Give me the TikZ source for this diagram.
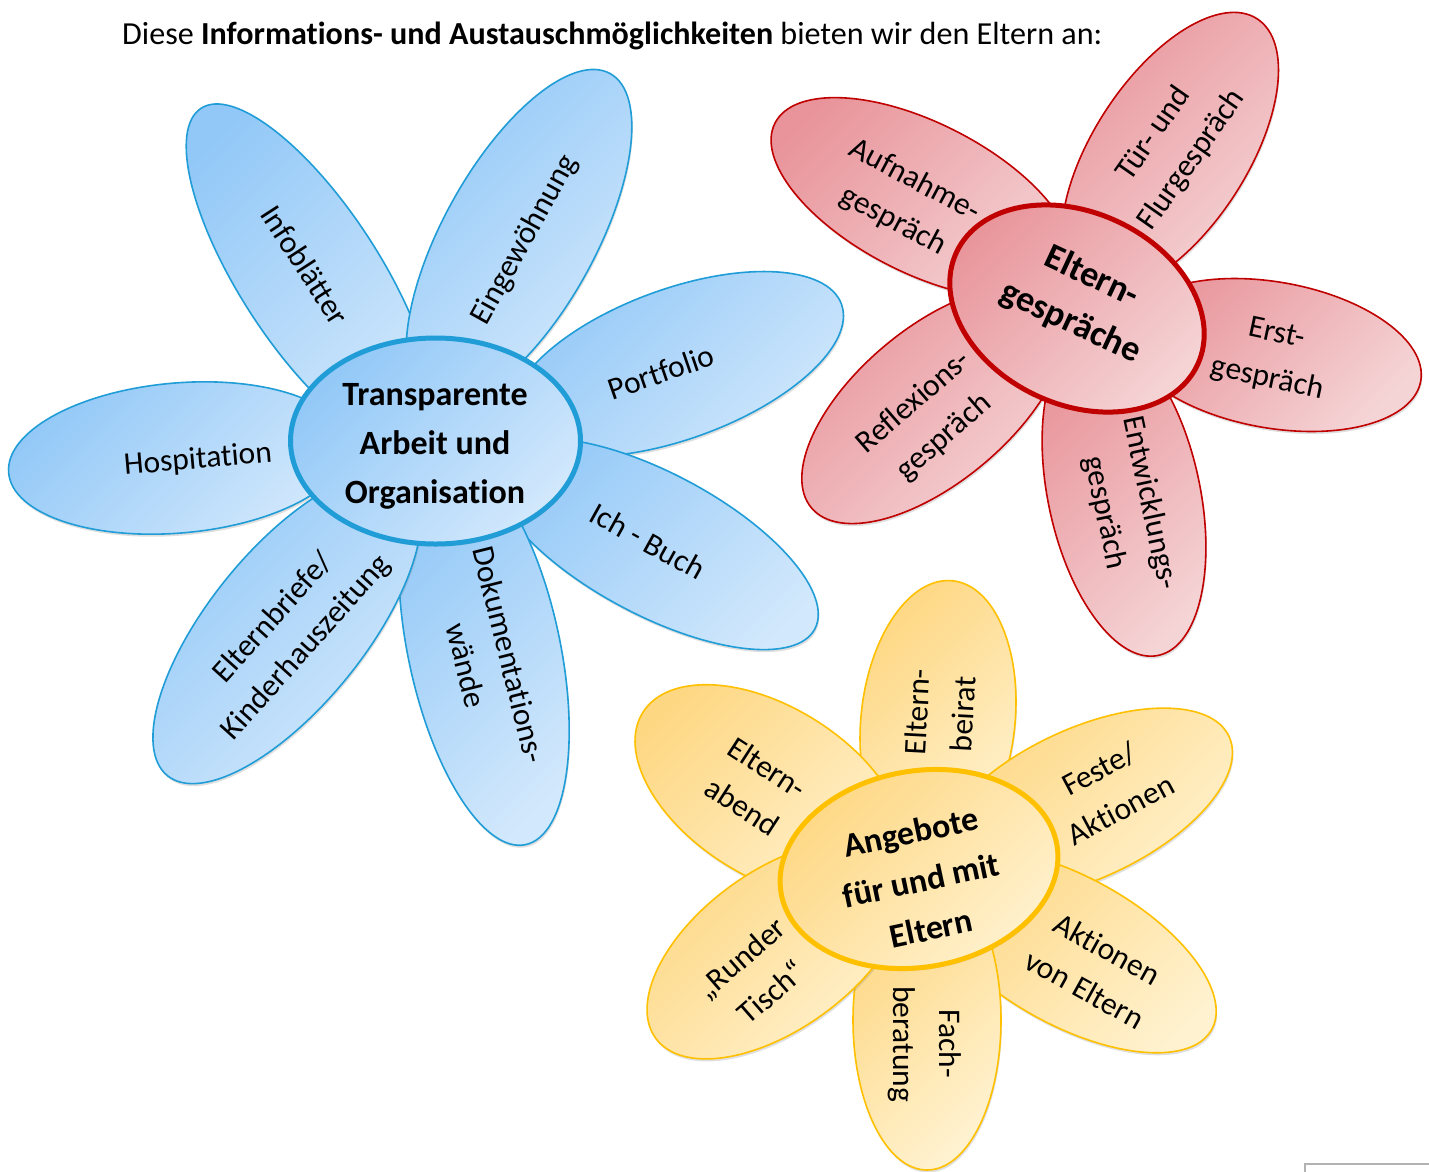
\documentclass[tikz,border=0pt]{standalone}
\usepackage{fontspec}
\setmainfont{Carlito}[Ligatures=NoCommon]
\usetikzlibrary{shapes.geometric,shadows}
\definecolor{bdark}{RGB}{146,200,247}
\definecolor{blight}{RGB}{210,232,252}
\definecolor{bline}{RGB}{32,157,215}
\definecolor{rdark}{RGB}{232,148,154}
\definecolor{rlight}{RGB}{245,212,214}
\definecolor{rline}{RGB}{192,0,0}
\definecolor{ydark}{RGB}{254,215,130}
\definecolor{ylight}{RGB}{255,242,208}
\definecolor{yline}{RGB}{255,192,0}
\tikzset{
  petal/.style={ellipse, inner sep=0pt, line width=1.6pt,
    drop shadow={opacity=0.25, shadow xshift=1pt, shadow yshift=-2.5pt}},
  bpetal/.style={petal, draw=bline, top color=bdark, bottom color=blight, shading angle=45},
  rpetal/.style={petal, draw=rline, top color=rdark, bottom color=rlight, shading angle=45},
  ypetal/.style={petal, draw=yline, top color=ydark, bottom color=ylight, shading angle=45},
  bcenter/.style={bpetal, line width=5pt},
  rcenter/.style={rpetal, line width=5pt},
  ycenter/.style={ypetal, line width=5pt},
  ptext/.style={align=center, inner sep=0pt, font=\fontsize{31.5}{46}\selectfont},
  ctext/.style={align=center, inner sep=0pt, font=\fontsize{34}{49}\selectfont\bfseries},
}
\begin{document}
\begin{tikzpicture}[x=1pt,y=1pt]
\fill[white] (0,0) rectangle (1429,-1171);
\useasboundingbox (0,0) rectangle (1429,-1171);

\node[anchor=base west, inner sep=0pt, font=\fontsize{32.1}{37}\selectfont] (title) at (122,-44)
  {Diese \textbf{Informations- und Austauschmöglichkeiten} bieten wir den Eltern an:};

% ---------- blue flower ----------
\node[bpetal, minimum width=400pt, minimum height=140pt, rotate=-57] (bp1) at (310,-276) {};
\node[bpetal, minimum width=376pt, minimum height=152pt, rotate=61] (bp2) at (519,-238) {};
\node[bpetal, minimum width=350pt, minimum height=150pt, rotate=20] (bp3) at (677,-364) {};
\node[bpetal, minimum width=362pt, minimum height=142pt, rotate=-28] (bp4) at (655,-544) {};
\node[bpetal, minimum width=400pt, minimum height=152pt, rotate=-78] (bp5) at (484,-649) {};
\node[bpetal, minimum width=380pt, minimum height=156pt, rotate=51] (bp6) at (287,-628) {};
\node[bpetal, minimum width=340pt, minimum height=150pt, rotate=5] (bp7) at (178,-458) {};
\node[bcenter, minimum width=290pt, minimum height=206pt] (bc) at (435.5,-441) {};

% ---------- red flower ----------
\node[rpetal, minimum width=330pt, minimum height=150pt, rotate=-27] (rp1) at (922,-198) {};
\node[rpetal, minimum width=320pt, minimum height=154pt, rotate=57] (rp2) at (1170,-153) {};
\node[rpetal, minimum width=300pt, minimum height=146pt, rotate=-10] (rp3) at (1273,-355) {};
\node[rpetal, minimum width=330pt, minimum height=152pt, rotate=-78] (rp4) at (1124,-494) {};
\node[rpetal, minimum width=320pt, minimum height=154pt, rotate=40] (rp5) at (934,-405) {};
\node[rcenter, minimum width=266pt, minimum height=192pt, rotate=-25] (rc) at (1077,-308.5) {};

% ---------- yellow flower ----------
\node[ypetal, minimum width=280pt, minimum height=154pt, rotate=84] (yp1) at (938,-720) {};
\node[ypetal, minimum width=300pt, minimum height=170pt, rotate=-32] (yp2) at (770,-792) {};
\node[ypetal, minimum width=320pt, minimum height=150pt, rotate=25] (yp3) at (1084,-804) {};
\node[ypetal, minimum width=324pt, minimum height=148pt, rotate=-29] (yp4) at (1070,-951) {};
\node[ypetal, minimum width=300pt, minimum height=148pt, rotate=-90] (yp5) at (927,-1020) {};
\node[ypetal, minimum width=300pt, minimum height=158pt, rotate=36] (yp6) at (777,-950) {};
\node[ycenter, minimum width=280pt, minimum height=196pt, rotate=10] (yc) at (919,-869) {};

% ---------- texts ----------
\node[ctext] (bct) at (435,-446) {Transparente\\Arbeit und\\Organisation};
\node[ctext, font=\fontsize{36}{50}\selectfont\bfseries, rotate=-25] (rct) at (1081,-300) {Eltern-\\gespräche};
\node[ctext, rotate=12] (yct) at (921,-880) {Angebote\\für und mit\\Eltern};

\node[ptext, rotate=-57] (bt1) at (305,-265) {Infoblätter};
\node[ptext, rotate=61] (bt2) at (525,-240) {Eingewöhnung};
\node[ptext, rotate=19] (bt3) at (661,-372) {Portfolio};
\node[ptext, rotate=-29] (bt4) at (648,-541) {Ich - Buch};
\node[ptext, rotate=-76, font=\fontsize{31.5}{44}\selectfont] (bt5) at (488,-660) {Dokumentations-\\wände};
\node[ptext, rotate=48, font=\fontsize{31.5}{44}\selectfont] (bt6) at (290,-633) {Elternbriefe/\\Kinderhauszeitung};
\node[ptext, rotate=5] (bt7) at (198,-460) {Hospitation};

\node[ptext, rotate=-28] (rt1) at (904,-201) {Aufnahme-\\gespräch};
\node[ptext, rotate=55] (rt2) at (1173,-147) {Tür- und\\Flurgespräch};
\node[ptext, rotate=-12] (rt3) at (1272,-357) {Erst-\\gespräch};
\node[ptext, rotate=-78] (rt4) at (1127,-508) {Entwicklungs-\\gespräch};
\node[ptext, rotate=41] (rt5) at (929,-420) {Reflexions-\\gespräch};

\node[ptext, rotate=87] (yt1) at (940,-713) {Eltern-\\beirat};
\node[ptext, rotate=-33] (yt2) at (755,-787) {Eltern-\\abend};
\node[ptext, rotate=28] (yt3) at (1110,-789) {Feste/\\Aktionen};
\node[ptext, rotate=-29] (yt4) at (1096,-969) {Aktionen\\von Eltern};
\node[ptext, rotate=-90] (yt5) at (925,-1044) {Fach-\\beratung};
\node[ptext, rotate=41] (yt6) at (756,-975) {„Runder\\Tisch“};

% small frame corner at the bottom right
\draw[black!30, line width=1.6pt] (1305,-1172) -- (1305,-1164) -- (1430,-1164);
\end{tikzpicture}
\end{document}
